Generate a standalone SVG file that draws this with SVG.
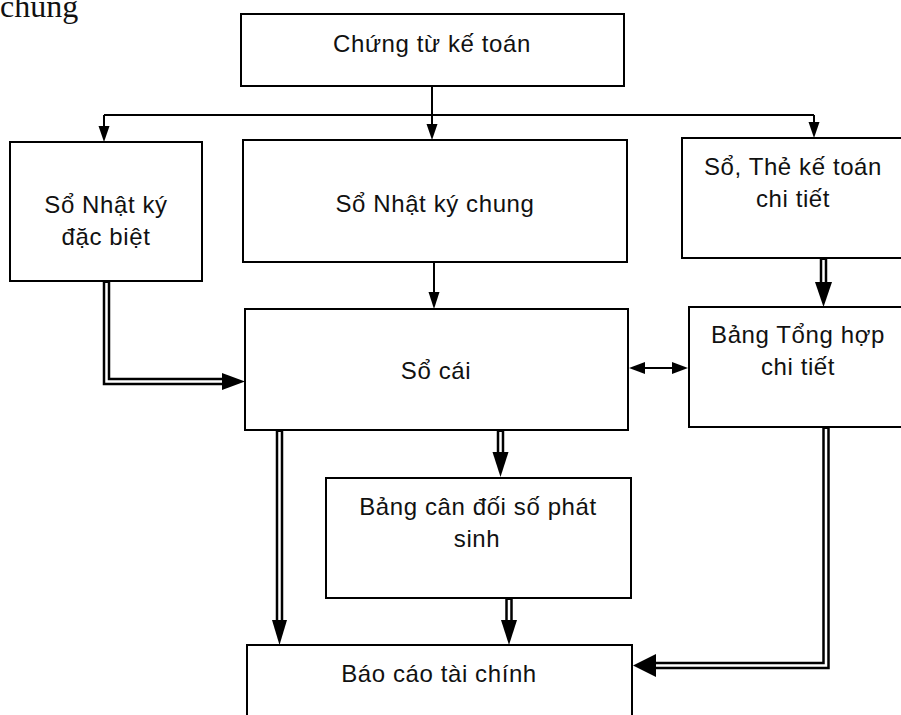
<svg xmlns="http://www.w3.org/2000/svg" width="901" height="715" viewBox="0 0 901 715">
<style>
.box{fill:#fff;stroke:#000;stroke-width:2}
.t{font-family:"Liberation Sans",Arial,sans-serif;font-size:24px;letter-spacing:0.6px;fill:#111;text-anchor:middle}
.ln{fill:none;stroke:#000;stroke-width:2}
.dblo{fill:none;stroke:#000;stroke-width:7.5;stroke-linejoin:miter}
.dbli{fill:none;stroke:#fff;stroke-width:2.5;stroke-linejoin:miter}
.ah{fill:#000;stroke:none}
</style>
<rect width="901" height="715" fill="#fff"/>
<text x="0" y="17" font-family="Liberation Serif,serif" font-size="32" fill="#111">chung</text>
<g id="n1"><rect class="box" x="241" y="14" width="383" height="72"/><text class="t" x="432" y="52">Chứng từ kế toán</text></g>
<g id="n2"><rect class="box" x="10" y="142" width="192" height="139"/><text class="t" x="106" y="213">Sổ Nhật ký</text><text class="t" x="106" y="245">đặc biệt</text></g>
<g id="n3"><rect class="box" x="243" y="140" width="384" height="122"/><text class="t" x="435" y="212">Sổ Nhật ký chung</text></g>
<g id="n4"><rect class="box" x="682" y="138" width="225" height="120"/><text class="t" x="793" y="175">Sổ, Thẻ kế toán</text><text class="t" x="793" y="207">chi tiết</text></g>
<g id="n5"><rect class="box" x="245" y="309" width="383" height="121"/><text class="t" x="436" y="379">Sổ cái</text></g>
<g id="n6"><rect class="box" x="689" y="307" width="218" height="120"/><text class="t" x="798" y="343">Bảng Tổng hợp</text><text class="t" x="798" y="375">chi tiết</text></g>
<g id="n7"><rect class="box" x="326" y="478" width="305" height="120"/><text class="t" x="478" y="515">Bảng cân đối số phát</text><text class="t" x="477" y="547">sinh</text></g>
<g id="n8"><rect class="box" x="247" y="645" width="385" height="80"/><text class="t" x="439" y="682">Báo cáo tài chính</text></g>
<g id="connectors">
<path class="ln" d="M432 86 V115 M104 115 H814 M104 115 V128 M432 115 V126 M814 115 V124"/>
<polygon class="ah" points="98.5,126 109.5,126 104,142"/>
<polygon class="ah" points="426.5,124 437.5,124 432,140"/>
<polygon class="ah" points="808.5,122 819.5,122 814,138"/>
<path class="ln" d="M434 262 V294"/>
<polygon class="ah" points="428.5,292 439.5,292 434,309"/>
<path class="ln" d="M643 368 H675"/>
<polygon class="ah" points="629,368 645,362 645,374"/>
<polygon class="ah" points="688,368 672,362 672,374"/>
<path class="dblo" d="M106.5 282 V381.5 H223"/>
<path class="dbli" d="M106.5 283 V381.5 H223"/>
<polygon class="ah" points="222,373 245,381.5 222,390"/>
<path class="dblo" d="M823.5 259 V283"/>
<path class="dbli" d="M823.5 260 V283"/>
<polygon class="ah" points="815,282 832,282 823.5,307"/>
<path class="dblo" d="M279.5 431 V621"/>
<path class="dbli" d="M279.5 432 V621"/>
<polygon class="ah" points="272,620 287,620 279.5,645"/>
<path class="dblo" d="M500.5 431 V453"/>
<path class="dbli" d="M500.5 432 V453"/>
<polygon class="ah" points="492.5,452 508.5,452 500.5,477"/>
<path class="dblo" d="M509 599 V621"/>
<path class="dbli" d="M509 600 V621"/>
<polygon class="ah" points="501,620 517,620 509,645"/>
<path class="dblo" d="M826 428 V665.5 H655"/>
<path class="dbli" d="M826 429 V665.5 H655"/>
<polygon class="ah" points="656,654 656,677 633,665.5"/>
</g>
</svg>
